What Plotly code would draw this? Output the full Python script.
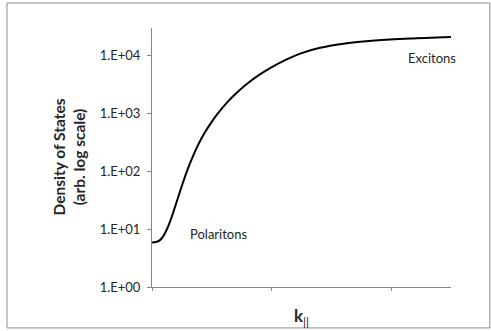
import plotly.graph_objects as go

# In-plane wavevector (arbitrary units) and density of states along the dispersion
k_par = [0.0, 0.033, 0.067, 0.100, 0.134, 0.176, 0.218, 0.259, 0.301, 0.343,
         0.385, 0.444, 0.502, 0.569, 0.636, 0.720, 0.803, 0.887, 0.987, 1.113,
         1.238, 1.406, 1.615, 1.866, 2.159, 2.5]
dos = [5.85, 5.97, 6.46, 7.88, 11.0, 19.0, 35.2, 63.8, 112.0, 183.0,
       283.0, 474.0, 728.0, 1110.0, 1610.0, 2390.0, 3340.0, 4470.0, 6030.0,
       8300.0, 10770.0, 13580.0, 16140.0, 18110.0, 19630.0, 20900.0]

y_tickvals = [1, 10, 100, 1000, 10000]
y_ticktext = ["1.E+00", "1.E+01", "1.E+02", "1.E+03", "1.E+04"]
x_tickvals = [0, 1, 2]

FONT = "Lato"
AXIS_GRAY = "#868686"
TEXT = "#262626"

fig = go.Figure()
fig.add_trace(go.Scatter(
    x=k_par, y=dos, mode="lines",
    line=dict(color="black", width=2, shape="spline", smoothing=0.8),
    showlegend=False, hoverinfo="skip",
))

fig.update_layout(
    width=491, height=331,
    margin=dict(l=152, r=40, t=28, b=44),
    paper_bgcolor="white", plot_bgcolor="white",
    font=dict(family=FONT, size=13, color=TEXT),
    xaxis=dict(
        range=[0, 2.5], tickvals=x_tickvals, showticklabels=False,
        ticks="outside", ticklen=3, tickcolor=AXIS_GRAY,
        showline=True, linecolor=AXIS_GRAY, linewidth=1,
        showgrid=False, zeroline=False,
    ),
    yaxis=dict(
        type="log", range=[0, 4.474],
        tickvals=y_tickvals, ticktext=y_ticktext,
        ticks="outside", ticklen=4, tickcolor=AXIS_GRAY,
        ticklabelstandoff=4,
        showline=True, linecolor=AXIS_GRAY, linewidth=1,
        showgrid=False, zeroline=False,
        tickfont=dict(family=FONT, size=13, color=TEXT),
    ),
    shapes=[dict(
        type="rect", xref="paper", yref="paper",
        x0=-0.485, x1=1.130, y0=-0.158, y1=1.0965,
        line=dict(color="#8c8c8c", width=1), fillcolor="rgba(0,0,0,0)",
        layer="below",
    )],
    annotations=[
        dict(text="Polaritons", x=0.56, y=0.92, xref="x", yref="y",
             showarrow=False, font=dict(family=FONT, size=13, color=TEXT)),
        dict(text="Excitons", x=2.343, y=3.95, xref="x", yref="y",
             showarrow=False, font=dict(family=FONT, size=13, color=TEXT)),
        dict(text="<b>Density of States</b><br><b>(arb. log scale)</b>",
             x=0, y=0.5, xref="paper", yref="paper", xanchor="center",
             yanchor="middle", xshift=-84, textangle=-90, showarrow=False,
             font=dict(family=FONT, size=15.5, color=TEXT)),
        dict(text="<b>k</b><sub>||</sub>", x=0.5, y=0, xref="paper",
             yref="paper", xanchor="center", yanchor="middle", yshift=-30,
             showarrow=False, font=dict(family=FONT, size=17, color=TEXT)),
    ],
)

fig.write_html("out.html")
